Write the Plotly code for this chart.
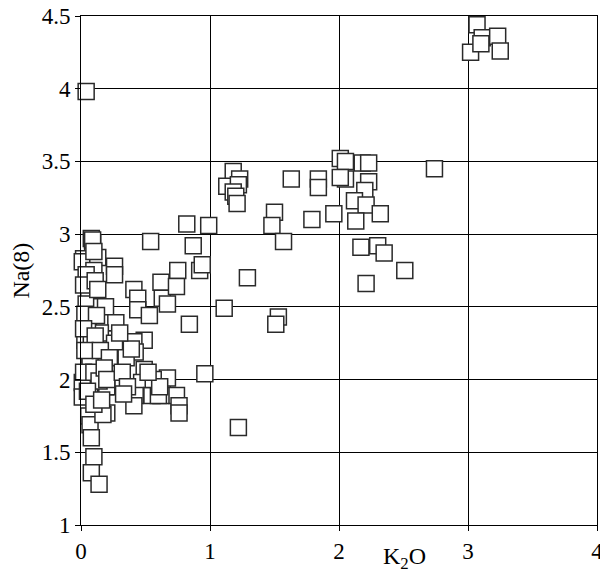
import plotly.graph_objects as go

# K2O values (x) and Na(8) values (y)
k2o_left = [0.04, 0.08, 0.09, 0.09, 0.02, 0.01, 0.13, 0.05, 0.10, 0.04, 0.07, 0.06, 0.26, 0.26,
            0.04, 0.16, 0.19, 0.06, 0.18, 0.27, 0.15, 0.03, 0.05, 0.08, 0.07, 0.07, 0.26, 0.24,
            0.01, 0.12, 0.01, 0.19, 0.29, 0.20, 0.06, 0.07, 0.20, 0.17, 0.08, 0.10, 0.08, 0.14,
            0.02, 0.11, 0.03, 0.12, 0.02, 0.11, 0.03, 0.15, 0.02, 0.10, 0.14, 0.05, 0.10, 0.22,
            0.18, 0.10, 0.13, 0.20, 0.16]
na8_left = [3.98, 2.97, 2.94, 2.96, 2.83, 2.81, 2.84, 2.72, 2.75, 2.72, 2.61, 2.61, 2.78, 2.72,
            2.52, 2.50, 2.50, 2.42, 2.39, 2.39, 2.32, 2.27, 2.36, 2.26, 2.17, 2.13, 2.25, 2.11,
            1.98, 1.91, 1.88, 1.95, 1.98, 1.95, 1.75, 1.69, 1.77, 1.76, 1.60, 1.47, 1.36, 1.28,
            2.65, 2.68, 2.45, 2.44, 2.35, 2.30, 2.20, 2.20, 2.05, 2.05, 1.99, 1.92, 1.83, 2.15,
            2.08, 2.88, 2.62, 2.00, 1.86]

k2o_mid = [0.54, 0.41, 0.44, 0.44, 0.53, 0.62, 0.63, 0.67, 0.75, 0.74, 0.92, 0.94, 0.87, 0.82,
           0.99, 0.84, 0.49, 0.41, 0.42, 0.35, 0.39, 0.49, 0.47, 0.63, 0.74, 0.76, 0.76, 0.42,
           0.41, 0.62, 0.55, 0.60, 0.67, 0.56, 0.61, 0.96, 0.32, 0.36, 0.30, 0.33, 0.52]
na8_mid = [2.95, 2.62, 2.56, 2.48, 2.44, 2.67, 2.56, 2.52, 2.75, 2.64, 2.75, 2.79, 2.92, 3.07,
           3.06, 2.38, 2.27, 2.26, 2.19, 2.15, 2.21, 2.07, 1.98, 1.94, 1.89, 1.82, 1.77, 1.89,
           1.82, 1.89, 1.89, 1.89, 2.01, 2.00, 1.95, 2.04, 2.05, 1.95, 2.32, 1.90, 2.05]

k2o_right = [1.22, 1.11, 1.29, 1.53, 1.51, 1.18, 1.23, 1.13, 1.22, 1.18, 1.20, 1.21, 1.63, 1.50,
             1.48, 1.57, 1.84, 1.84, 1.79, 1.96, 2.01, 2.05, 2.18, 2.23, 2.05, 2.01, 2.23, 2.20,
             2.12, 2.21, 2.13, 2.32, 2.74, 2.17, 2.30, 2.35, 2.51, 2.21, 3.07, 3.11, 3.02, 3.23,
             3.25, 3.10]
na8_right = [1.67, 2.49, 2.70, 2.43, 2.38, 3.43, 3.38, 3.33, 3.34, 3.29, 3.26, 3.21, 3.38, 3.15,
             3.06, 2.95, 3.38, 3.32, 3.10, 3.14, 3.52, 3.50, 3.49, 3.49, 3.38, 3.39, 3.36, 3.30,
             3.23, 3.20, 3.09, 3.14, 3.45, 2.91, 2.92, 2.87, 2.75, 2.66, 4.44, 4.35, 4.25, 4.36,
             4.26, 4.31]

x_ticks = [0, 1, 2, 3, 4]
x_tick_labels = ["0", "1", "2", "3", "4"]
y_ticks = [1, 1.5, 2, 2.5, 3, 3.5, 4, 4.5]
y_tick_labels = ["1", "1.5", "2", "2.5", "3", "3.5", "4", "4.5"]

k2o = k2o_left + k2o_mid + k2o_right
na8 = na8_left + na8_mid + na8_right

font_family = "Liberation Serif, Times New Roman, serif"

fig = go.Figure()
fig.add_trace(go.Scatter(
    x=k2o, y=na8, mode="markers",
    marker=dict(symbol="square", size=16, color="white",
                line=dict(color="#2a2a2a", width=1.5)),
    cliponaxis=False, showlegend=False,
))

fig.update_layout(
    width=600, height=573,
    margin=dict(l=81, r=3, t=16, b=48, autoexpand=False),
    plot_bgcolor="white", paper_bgcolor="white",
    font=dict(family=font_family, size=23, color="black"),
    xaxis=dict(range=[0, 4], tickvals=x_ticks, ticktext=x_tick_labels,
               showgrid=True, gridcolor="black", gridwidth=1,
               showline=True, linecolor="black", linewidth=1, mirror=True,
               ticks="outside", ticklen=5, tickcolor="black",
               ticklabeloverflow="allow", automargin=False,
               zeroline=False, fixedrange=True),
    yaxis=dict(range=[1, 4.5], tickvals=y_ticks, ticktext=y_tick_labels,
               showgrid=True, gridcolor="black", gridwidth=1,
               showline=True, linecolor="black", linewidth=1, mirror=True,
               ticks="outside", ticklen=5, tickcolor="black",
               ticklabeloverflow="allow", automargin=False,
               zeroline=False, fixedrange=True),
    annotations=[
        dict(text="K<sub>2</sub>O", xref="paper", yref="paper", x=0.626, y=-0.064,
             xanchor="center", yanchor="middle", showarrow=False,
             font=dict(family=font_family, size=24, color="black")),
        dict(text="Na(8)", xref="paper", yref="paper", x=-0.118, y=0.5,
             xanchor="center", yanchor="middle", textangle=-90, showarrow=False,
             font=dict(family=font_family, size=24, color="black")),
    ],
)

fig.write_html("out.html", config={"displayModeBar": False},
               post_script="document.body.style.margin='0';document.body.style.overflow='hidden';")
